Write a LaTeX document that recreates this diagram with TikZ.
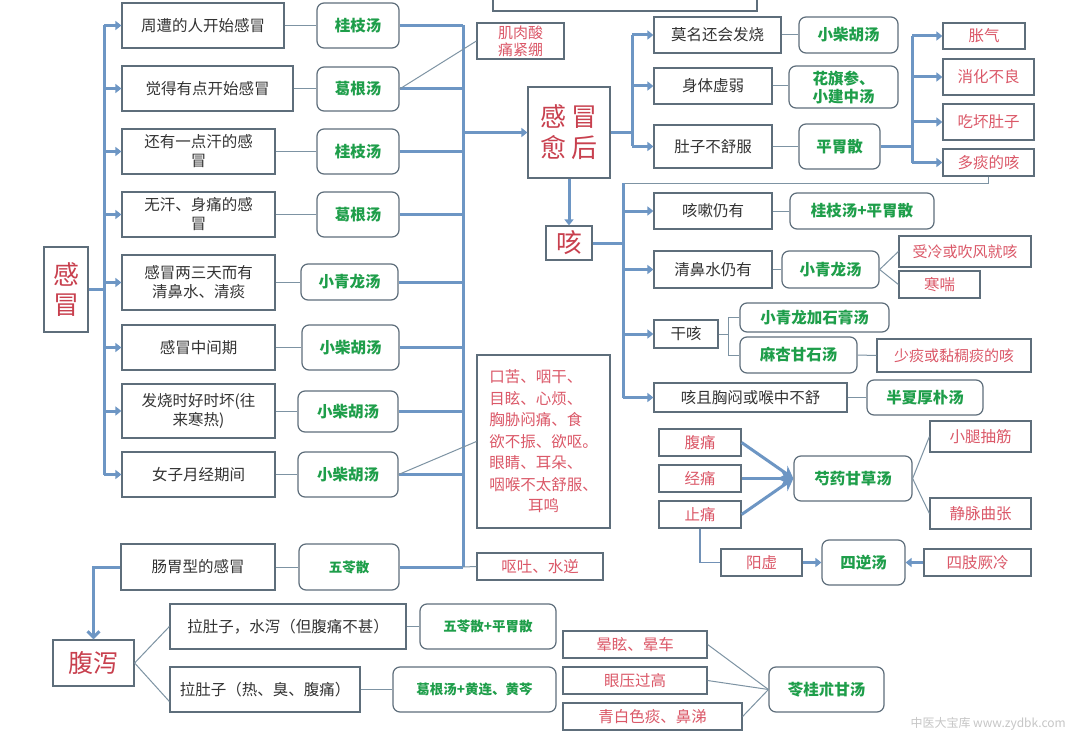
\documentclass[tikz,border=0pt]{standalone}
\usepackage{fontspec}
\setmainfont{Noto Sans CJK SC}
\usetikzlibrary{arrows.meta}
\definecolor{bord}{HTML}{5E6E7B}
\definecolor{thk}{HTML}{6D96C4}
\definecolor{thn}{HTML}{7D93A3}
\definecolor{grn}{HTML}{1E9E4A}
\definecolor{redA}{HTML}{C8404E}
\definecolor{redB}{HTML}{DB5868}
\definecolor{txt}{HTML}{333333}
\tikzset{
  box/.style={draw=bord, line width=1.2pt, fill=white, inner sep=0pt, align=center, text=txt, font=\fontsize{15.5}{19}\selectfont},
  rbox/.style={box, rounded corners=7pt, text=grn, font=\fontsize{15.5}{18}\selectfont\bfseries},
  sgbox/.style={rbox, font=\fontsize{13.5}{16}\selectfont\bfseries},
  redbox/.style={box, text=redB},
  bigred/.style={box, text=redA, font=\fontsize{26}{31}\selectfont},
  tk/.style={draw=thk, line width=3pt},
  tkm/.style={draw=thk, line width=2.4pt},
  tnm/.style={draw=thk!80!gray, line width=1.5pt},
  tn/.style={draw=thn, line width=1pt},
  tip/.style={-{Triangle[length=6pt,width=9pt]}},
}
\newcommand\mybox[7]{\node[#1,minimum width={#5-#3},minimum height={#6-#4}] (#2) at ({(#3+#5)/2},{(#4+#6)/2}) {#7};}
\begin{document}
\begin{tikzpicture}[x=1pt,y=-1pt]
\useasboundingbox (0,0) rectangle (1068,733);
\fill[white] (0,0) rectangle (1068,733);
\clip (0,0) rectangle (1068,733);
% title box (cut off)
\draw[bord, line width=1.2pt] (493,-30) rectangle (757,11);
% left column
\mybox{box}{b1}{122}{3}{284}{48}{周遭的人开始感冒}
\mybox{box}{b2}{122}{66}{293}{111}{觉得有点开始感冒}
\mybox{box}{b3}{122}{129}{275}{174}{还有一点汗的感\\冒}
\mybox{box}{b4}{122}{192}{275}{237}{无汗、身痛的感\\冒}
\mybox{box}{b5}{122}{255}{275}{310}{感冒两三天而有\\清鼻水、清痰}
\mybox{box}{b6}{122}{325}{275}{370}{感冒中间期}
\mybox{box}{b7}{122}{384}{275}{438}{发烧时好时坏(往\\来寒热)}
\mybox{box}{b8}{122}{452}{275}{497}{女子月经期间}
\mybox{box}{b9}{121}{544}{275}{590}{肠胃型的感冒}
% green column
\mybox{rbox}{g1}{317}{3}{399}{48}{桂枝汤}
\mybox{rbox}{g2}{317}{67}{399}{111}{葛根汤}
\mybox{rbox}{g3}{317}{129}{399}{174}{桂枝汤}
\mybox{rbox}{g4}{317}{192}{399}{237}{葛根汤}
\mybox{rbox}{g5}{301}{264}{398}{300}{小青龙汤}
\mybox{rbox}{g6}{302}{325}{399}{370}{小柴胡汤}
\mybox{rbox}{g7}{298}{391}{398}{432}{小柴胡汤}
\mybox{rbox}{g8}{298}{452}{398}{497}{小柴胡汤}
\mybox{sgbox}{g9}{299}{544}{399}{590}{五苓散}
% red notes
\mybox{redbox,font=\fontsize{15}{17}\selectfont}{r1}{477}{23}{564}{59}{肌肉酸\\痛紧绷}
\mybox{redbox,align=left,font=\fontsize{15.5}{21.5}\selectfont}{r2}{477}{355}{610}{528}{口苦、咽干、\\目眩、心烦、\\胸胁闷痛、食\\欲不振、欲呕。\\眼睛、耳朵、\\咽喉不太舒服、\\\makebox[7em][c]{耳鸣}}
\mybox{redbox}{r3}{477}{553}{603}{580}{呕吐、水逆}
% big labels
\mybox{bigred,font=\fontsize{26}{30}\selectfont}{gm}{44}{247}{88}{332}{感\\冒}
\mybox{bigred}{gy}{528}{87}{610}{178}{感\,冒\\愈\,后}
\mybox{bigred}{ke}{546}{226}{592}{260}{咳}
\mybox{bigred,font=\fontsize{25}{30}\selectfont}{fx}{53}{640}{134}{686}{腹泻}
% upper right
\mybox{box}{u1}{654}{17}{781}{53}{莫名还会发烧}
\mybox{box}{u2}{654}{68}{772}{104}{身体虚弱}
\mybox{box}{u3}{654}{125}{772}{168}{肚子不舒服}
\mybox{rbox}{ug1}{799}{17}{898}{53}{小柴胡汤}
\mybox{rbox}{ug2}{789}{66}{898}{108}{花旗参、\\小建中汤}
\mybox{rbox}{ug3}{799}{124}{880}{169}{平胃散}
\mybox{redbox}{ur1}{943}{23}{1025}{49}{胀气}
\mybox{redbox}{ur2}{943}{59}{1034}{95}{消化不良}
\mybox{redbox}{ur3}{943}{104}{1034}{140}{吃坏肚子}
\mybox{redbox}{ur4}{943}{149}{1034}{176}{多痰的咳}
% cough
\mybox{box}{k1}{654}{193}{772}{229}{咳嗽仍有}
\mybox{rbox}{kg1}{790}{193}{934}{229}{桂枝汤+平胃散}
\mybox{box}{k2}{654}{251}{772}{288}{清鼻水仍有}
\mybox{rbox}{kg2}{782}{251}{879}{288}{小青龙汤}
\mybox{redbox,font=\fontsize{15}{18}\selectfont}{kr1}{899}{236}{1031}{267}{受冷或吹风就咳}
\mybox{redbox}{kr2}{899}{271}{980}{298}{寒喘}
\mybox{box}{k3}{654}{320}{718}{348}{干咳}
\mybox{rbox}{kg3}{740}{303}{889}{332}{小青龙加石膏汤}
\mybox{rbox}{kg4}{740}{337}{857}{373}{麻杏甘石汤}
\mybox{redbox,font=\fontsize{15}{18}\selectfont}{kr3}{877}{339}{1031}{372}{少痰或黏稠痰的咳}
\mybox{box}{k4}{654}{383}{847}{412}{咳且胸闷或喉中不舒}
\mybox{rbox}{kg5}{867}{380}{983}{415}{半夏厚朴汤}
% pain
\mybox{redbox}{p1}{659}{429}{741}{456}{腹痛}
\mybox{redbox}{p2}{659}{465}{741}{492}{经痛}
\mybox{redbox}{p3}{659}{501}{741}{528}{止痛}
\mybox{rbox}{pg}{794}{456}{912}{501}{芍药甘草汤}
\mybox{redbox}{pr1}{930}{421}{1031}{452}{小腿抽筋}
\mybox{redbox}{pr2}{930}{498}{1031}{529}{静脉曲张}
\mybox{redbox}{py}{721}{549}{802}{576}{阳虚}
\mybox{rbox}{pg2}{822}{540}{905}{585}{四逆汤}
\mybox{redbox}{pl}{924}{549}{1031}{576}{四肢厥冷}
% diarrhoea
\mybox{box}{d1}{170}{604}{406}{649}{拉肚子，水泻（但腹痛不甚）}
\mybox{sgbox}{dg1}{420}{604}{556}{649}{五苓散+平胃散}
\mybox{box}{d2}{170}{667}{360}{712}{拉肚子（热、臭、腹痛）}
\mybox{sgbox}{dg2}{393}{667}{556}{712}{葛根汤+黄连、黄芩}
% dizzy
\mybox{redbox}{z1}{563}{631}{707}{658}{晕眩、晕车}
\mybox{redbox}{z2}{563}{667}{707}{694}{眼压过高}
\mybox{redbox}{z3}{563}{703}{742}{730}{青白色痰、鼻涕}
\mybox{rbox}{zg}{769}{667}{884}{712}{苓桂朮甘汤}
% watermark
\node[anchor=east, text=gray!45, inner sep=0pt, font=\fontsize{12}{12}\selectfont] (wm) at (1066,724) {中医大宝库 www.zydbk.com};
% ---------- connectors ----------
\coordinate (L) at (104,0);
\coordinate (M) at (463,0);
\coordinate (R1) at (632,0);
\coordinate (R2) at (912,0);
\coordinate (K) at (623,183);
% left trunk
\draw[tk] (gm.east) -- (L |- gm.east);
\draw[tk] (L |- b1.west) -- (L |- b8.west);
\foreach \i in {1,...,8} {
  \draw[tk,tip] (L |- b\i.west) -- (b\i.west);
  \draw[tn] (b\i.east) -- (b\i.east -| g\i.west);
}
\draw[tn] (b9.east) -- (b9.east -| g9.west);
% middle trunk
\foreach \i in {1,...,9} { \draw[tk] (g\i.east) -- (M |- g\i.east); }
\draw[tk] (M |- g1.east) -- (M |- g9.east);
\draw[tk,tip] (M |- gy.west) -- (gy.west);
\draw[tn] (g2.east) -- (r1.west);
\draw[tn] (g8.east) -- (r2.west);
\draw[tn] (M |- g9.east) -- (r3.west);
% upper right
\draw[tk] (gy.east) -- (R1 |- gy.east);
\draw[tk] (R1 |- u1.west) -- (R1 |- u3.west);
\foreach \i in {1,2,3} {
  \draw[tk,tip] (R1 |- u\i.west) -- (u\i.west);
  \draw[tn] (u\i.east) -- (u\i.east -| ug\i.west);
}
\draw[tk] (ug3.east) -- (R2 |- ug3.east);
\draw[tk] (R2 |- ur1.west) -- (R2 |- ur4.west);
\foreach \i in {1,2,3,4} { \draw[tk,tip] (R2 |- ur\i.west) -- (ur\i.west); }
% cough
\draw[tk,tip] (gy.south) -- (ke.north);
\draw[tn] (ur4.south) |- (K);
\draw[tk] (K) -- (K |- k4.west);
\draw[tk] (ke.east) -- (K |- ke.east);
\foreach \i in {1,2,3,4} { \draw[tk,tip] (K |- k\i.west) -- (k\i.west); }
\draw[tn] (k1.east) -- (kg1.west);
\draw[tn] (k2.east) -- (kg2.west);
\draw[tn] (kg2.east) -- (kr1.west);
\draw[tn] (kg2.east) -- (kr2.west);
\draw[tn] (k3.east) -- ++(10,0) |- (kg3.west);
\draw[tn] (k3.east) -- ++(10,0) |- (kg4.west);
\draw[tn] (kg4.east) -- (kr3.west);
\draw[tn] (k4.east) -- (k4.east -| kg5.west);
% pain
\foreach \i in {1,2,3} { \draw[tk,-{Stealth[length=12pt,width=14pt]}] (p\i.east) -- (pg.west); }
\draw[tn] (pg.east) -- (pr1.west);
\draw[tn] (pg.east) -- (pr2.west);
\draw[tnm] (p3.south) |- (py.west);
\draw[tkm,tip] (py.east) -- (pg2.west);
\draw[tkm,tip] (pl.west) -- (pg2.east);
% diarrhoea
\draw[tk,-{Straight Barb[length=6pt,width=12pt]}] (b9.west) -| (fx.north);
\draw[tn] (fx.east) -- (d1.west);
\draw[tn] (fx.east) -- ([yshift=-12pt]d2.west);
\draw[tn] (d1.east) -- (d1.east -| dg1.west);
\draw[tn] (d2.east) -- (d2.east -| dg2.west);
% dizzy
\draw[tn] (z1.east) -- (zg.west);
\draw[tn] (z2.east) -- (zg.west);
\draw[tn] (z3.east) -- (zg.west);
\end{tikzpicture}
\end{document}
